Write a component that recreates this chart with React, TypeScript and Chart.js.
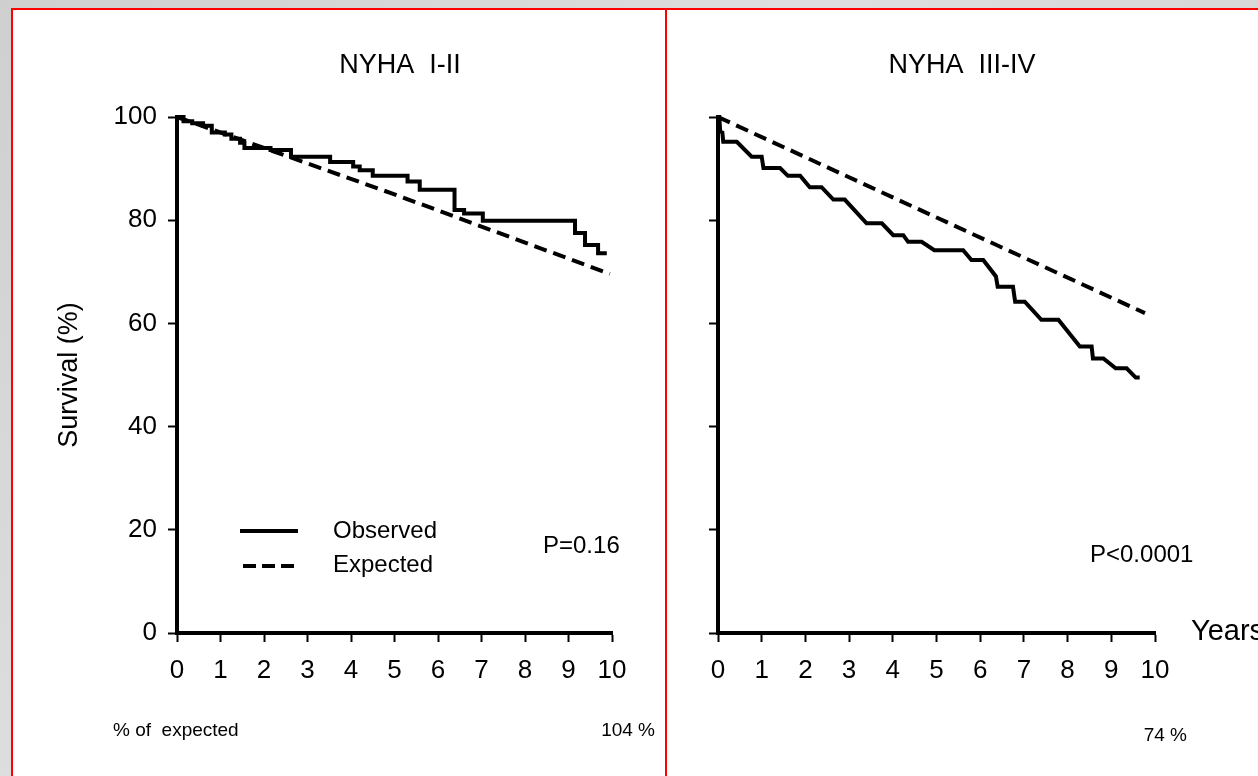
import React, { useEffect, useRef } from "react";
import { Chart, registerables } from "chart.js";

Chart.register(...registerables);

// ---------- data ----------
const yearTicks = [0, 1, 2, 3, 4, 5, 6, 7, 8, 9, 10];
const survivalTicks = [0, 20, 40, 60, 80, 100];

// NYHA I-II
const leftObsT = [0, 0.15, 0.35, 0.6, 0.8, 1.1, 1.25, 1.45, 1.55, 2.15, 2.62, 3.52, 4.05, 4.2, 4.5, 5.3, 5.58, 6.38, 6.6, 7.03, 9.15, 9.38, 9.68, 9.88];
const leftObsV = [100, 99.2, 98.8, 98.3, 97, 96.6, 95.8, 95, 94, 93.6, 92.3, 91.3, 90.4, 89.7, 88.6, 87.5, 85.9, 82, 81.3, 79.9, 77.5, 75.2, 73.6, 73.6];
const leftExpT = [0, 5, 9.95];
const leftExpV = [100, 85.0, 69.6];

// NYHA III-IV
const rightObsT = [0, 0.03, 0.05, 0.1, 0.12, 0.43, 0.77, 1.0, 1.04, 1.42, 1.6, 1.88, 2.1, 2.37, 2.64, 2.9, 3.4, 3.75, 4.01, 4.24, 4.35, 4.66, 4.95, 5.61, 5.8, 6.07, 6.36, 6.4, 6.75, 6.8, 7.02, 7.4, 7.79, 8.28, 8.55, 8.58, 8.82, 9.1, 9.35, 9.56, 9.65];
const rightObsV = [100, 100, 97.2, 97, 95.2, 95.2, 92.3, 92.3, 90.1, 90.1, 88.6, 88.6, 86.4, 86.4, 84.0, 84.0, 79.4, 79.4, 77.1, 77.1, 75.8, 75.8, 74.2, 74.2, 72.3, 72.3, 69.1, 67.1, 67.1, 64.2, 64.2, 60.7, 60.7, 55.5, 55.5, 53.2, 53.2, 51.3, 51.3, 49.5, 49.5];
const rightExpT = [0, 4.93, 9.77];
const rightExpV = [100, 80.8, 62.0];

const FONT = "'Liberation Sans', Arial, Helvetica, sans-serif";

type TextItem = { text: string; x: number; y: number; size: number; align?: CanvasTextAlign; rotate?: boolean };
type LegendLine = { x1: number; x2: number; y: number; dash: number[] };

function toPoints(t: number[], v: number[]) {
  return t.map((x, i) => ({ x, y: v[i] }));
}

function annotPlugin(texts: TextItem[], lines: LegendLine[]) {
  return {
    id: "annot",
    afterDraw(chart: any) {
      const ctx: CanvasRenderingContext2D = chart.ctx;
      ctx.save();
      ctx.fillStyle = "#000";
      ctx.textBaseline = "middle";
      for (const t of texts) {
        ctx.font = `${t.size}px ${FONT}`;
        ctx.textAlign = t.align || "left";
        if (t.rotate) {
          ctx.save();
          ctx.translate(t.x, t.y);
          ctx.rotate(-Math.PI / 2);
          ctx.fillText(t.text, 0, 0);
          ctx.restore();
        } else {
          ctx.fillText(t.text, t.x, t.y);
        }
      }
      ctx.strokeStyle = "#000";
      ctx.lineWidth = 4;
      for (const l of lines) {
        ctx.setLineDash(l.dash);
        ctx.beginPath();
        ctx.moveTo(l.x1, l.y);
        ctx.lineTo(l.x2, l.y);
        ctx.stroke();
      }
      ctx.restore();
    },
  };
}

type PanelProps = {
  left: number;
  width: number;
  obsT: number[];
  obsV: number[];
  expT: number[];
  expV: number[];
  obsStepped: boolean;
  showYLabels: boolean;
  yAxisWidth: number;
  padRight: number;
  texts: TextItem[];
  lines: LegendLine[];
};

function Panel(p: PanelProps) {
  const ref = useRef<HTMLCanvasElement | null>(null);
  useEffect(() => {
    if (!ref.current) return;
    const axisCommon = {
      grid: {
        display: true,
        drawOnChartArea: false,
        drawTicks: true,
        tickLength: 9,
        tickWidth: 2,
        tickColor: "#000",
        color: "#000",
      },
      border: { display: true, color: "#000", width: 4 },
    };
    const chart = new Chart(ref.current, {
      type: "line",
      data: {
        datasets: [
          {
            label: "Observed",
            data: toPoints(p.obsT, p.obsV),
            stepped: p.obsStepped ? true : false,
            borderColor: "#000",
            borderWidth: 4,
            pointRadius: 0,
            fill: false,
            clip: false as any,
            borderJoinStyle: "miter",
          },
          {
            label: "Expected",
            data: toPoints(p.expT, p.expV),
            borderColor: "#000",
            borderWidth: 4,
            borderDash: [13, 7],
            pointRadius: 0,
            fill: false,
            clip: false as any,
          },
        ],
      },
      options: {
        responsive: false,
        animation: false,
        devicePixelRatio: 1,
        layout: { padding: { left: 0, right: p.padRight, top: 117, bottom: 83 } },
        plugins: {
          legend: { display: false },
          tooltip: { enabled: false },
          title: { display: false },
        },
        scales: {
          x: {
            type: "linear",
            min: 0,
            max: 10,
            afterBuildTicks: (s: any) => {
              s.ticks = yearTicks.map((v) => ({ value: v }));
            },
            afterFit: (s: any) => {
              s.height = 60;
            },
            ticks: {
              color: "#000",
              font: { family: FONT, size: 26 },
              padding: 13,
              maxRotation: 0,
              autoSkip: false,
            },
            ...axisCommon,
          },
          y: {
            type: "linear",
            min: 0,
            max: 100,
            afterBuildTicks: (s: any) => {
              s.ticks = survivalTicks.map((v) => ({ value: v }));
            },
            afterFit: (s: any) => {
              s.width = p.yAxisWidth;
            },
            ticks: {
              color: "#000",
              font: { family: FONT, size: 26 },
              padding: 11,
              callback: (v: any) => (p.showYLabels ? String(v) : ""),
            },
            ...axisCommon,
          },
        },
      } as any,
      plugins: [annotPlugin(p.texts, p.lines)],
    });
    return () => chart.destroy();
  }, []);
  return (
    <canvas
      ref={ref}
      width={p.width}
      height={776}
      style={{ position: "absolute", left: p.left, top: 0, width: p.width, height: 776 }}
    />
  );
}

export default function App() {
  const leftTexts: TextItem[] = [
    { text: "NYHA  I-II", x: 400, y: 66, size: 27, align: "center" },
    { text: "Survival (%)", x: 70, y: 375, size: 27, align: "center", rotate: true },
    { text: "Observed", x: 333, y: 531, size: 24 },
    { text: "Expected", x: 333, y: 565, size: 24 },
    { text: "P=0.16", x: 543, y: 546, size: 24 },
    { text: "% of  expected", x: 113, y: 731, size: 19 },
    { text: "104 %", x: 655, y: 731, size: 19, align: "right" },
  ];
  const leftLines: LegendLine[] = [
    { x1: 240, x2: 298, y: 531, dash: [] },
    { x1: 243, x2: 296, y: 566, dash: [13, 6] },
  ];
  const rOff = 666;
  const rightTexts: TextItem[] = [
    { text: "NYHA  III-IV", x: 962 - rOff, y: 66, size: 27, align: "center" },
    { text: "P<0.0001", x: 1090 - rOff, y: 555, size: 24 },
    { text: "Years", x: 1191 - rOff, y: 632, size: 29 },
    { text: "74 %", x: 1187 - rOff, y: 736, size: 19, align: "right" },
  ];

  return (
    <div
      style={{
        position: "fixed",
        left: 0,
        top: 0,
        width: 1258,
        height: 776,
        overflow: "hidden",
        background: "linear-gradient(135deg, #cfcfcf 0%, #dedede 40%, #cdcdcd 100%)",
      }}
    >
      <div
        style={{
          position: "absolute",
          left: 11,
          top: 8,
          width: 656,
          height: 800,
          boxSizing: "border-box",
          border: "2px solid #ff0000",
          background: "#fff",
        }}
      />
      <div
        style={{
          position: "absolute",
          left: 665,
          top: 8,
          width: 620,
          height: 800,
          boxSizing: "border-box",
          border: "2px solid #ff0000",
          background: "#fff",
        }}
      />
      <Panel
        left={0}
        width={665}
        obsT={leftObsT}
        obsV={leftObsV}
        expT={leftExpT}
        expV={leftExpV}
        obsStepped={true}
        showYLabels={true}
        yAxisWidth={177}
        padRight={53}
        texts={leftTexts}
        lines={leftLines}
      />
      <Panel
        left={rOff}
        width={592}
        obsT={rightObsT}
        obsV={rightObsV}
        expT={rightExpT}
        expV={rightExpV}
        obsStepped={false}
        showYLabels={false}
        yAxisWidth={52}
        padRight={103}
        texts={rightTexts}
        lines={[]}
      />
    </div>
  );
}
